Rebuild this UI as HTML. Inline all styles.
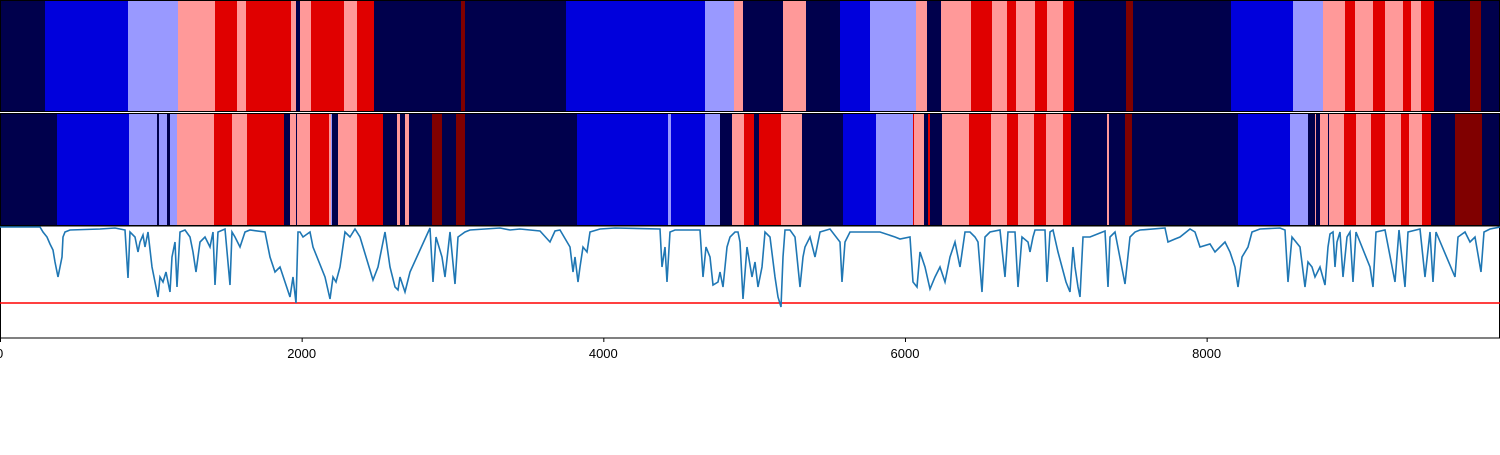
<!DOCTYPE html>
<html><head><meta charset="utf-8"><style>
body{margin:0;background:#fff;width:1500px;height:450px;overflow:hidden;font-family:"Liberation Sans",sans-serif}
</style></head><body>
<svg id="chart" width="1500" height="450" xmlns="http://www.w3.org/2000/svg">
<g id="row1"></g>
<g id="row2"></g>
<g id="line"></g>
<g id="axis"></g>
</svg>
<script>
const sampleStep = 6.63;
const xMax = 9945;
const tickValues = [0, 2000, 4000, 6000, 8000];
const tickLabels = ["0", "2000", "4000", "6000", "8000"];
const threshold = 76;
// segment boundaries (sample index) and levels (-3..3)
const row1Bounds = [0,45,128,178,215,237,246,291,296,300,311,344,357,374,461,465,566,705,734,743,783,806,840,870,916,927,941,971,992,1007,1016,1035,1047,1063,1074,1126,1133,1231,1293,1323,1345,1355,1373,1385,1403,1411,1421,1434,1470,1481,1500];
const row1Levels = [-3,-2,-1,1,2,1,2,1,-3,1,2,1,2,-3,3,-3,-2,-1,1,-3,1,-3,-2,-1,1,-3,1,2,1,2,1,2,1,2,-3,3,-3,-2,-1,1,2,1,2,1,2,1,2,-3,3,-3];
const row2Bounds = [0,57,129,157,159,167,170,177,214,232,247,284,290,296,297,310,329,331,332,338,357,383,397,400,405,409,432,442,456,465,577,668,671,705,720,732,744,754,759,781,802,843,876,913,914,924,928,930,942,969,991,1007,1018,1034,1046,1063,1071,1107,1109,1125,1132,1238,1290,1308,1315,1316,1320,1328,1329,1344,1356,1371,1385,1401,1409,1422,1431,1455,1482,1500];
const row2Levels = [-3,-2,-1,-3,-1,-3,-1,1,2,1,2,-3,1,-3,1,2,1,-1,-3,1,2,-3,1,-3,1,-3,3,-3,3,-3,-2,-1,-2,-1,-3,1,2,-3,2,1,-3,-2,-1,2,1,-3,2,-3,1,2,1,2,1,2,1,2,-3,1,-3,3,-3,-2,-1,-3,1,-3,1,-3,1,2,1,2,1,2,1,2,-3,3,-3];
const sigIdx = [0,40,43,47,50,53,55,57,58,60,62,63,65,70,100,115,125,128,130,135,138,140,143,145,148,152,156,158,160,163,166,170,172,175,177,180,185,190,193,196,200,205,210,213,215,218,225,230,232,235,240,245,250,265,270,275,280,285,290,293,296,298,300,303,310,313,325,330,333,336,340,345,350,355,360,373,378,382,385,390,395,398,400,405,410,430,433,436,442,445,450,455,458,465,470,500,510,520,540,550,555,560,570,573,575,578,580,583,587,590,600,615,660,662,665,667,670,675,700,703,706,710,713,718,720,723,727,730,735,738,740,743,747,752,755,758,762,765,770,775,778,781,783,785,790,795,800,803,805,810,815,820,830,840,842,845,850,880,895,900,910,913,917,920,925,930,935,940,945,950,955,960,965,970,975,978,982,985,990,1000,1005,1008,1015,1018,1022,1028,1030,1033,1035,1040,1045,1047,1050,1053,1058,1062,1066,1070,1073,1075,1078,1080,1083,1090,1100,1105,1108,1110,1115,1125,1130,1135,1140,1165,1168,1175,1180,1190,1195,1200,1210,1215,1225,1230,1235,1238,1242,1248,1252,1260,1280,1285,1288,1292,1300,1305,1308,1312,1315,1320,1325,1328,1330,1333,1335,1337,1340,1343,1347,1350,1353,1356,1370,1373,1376,1385,1395,1399,1405,1408,1420,1425,1430,1433,1436,1455,1458,1465,1470,1475,1481,1484,1490,1500];
const sigVal = [0,0,5,10,17,23,35,45,50,40,30,10,5,3,2,1,3,51,5,10,25,15,8,20,5,40,60,70,50,55,45,65,30,15,60,5,3,10,25,45,15,10,20,5,58,5,2,58,5,10,20,5,3,5,30,45,40,55,70,50,76,5,5,10,5,20,50,72,50,55,40,5,10,2,10,53,40,20,5,40,60,63,50,65,45,1,55,10,30,50,5,57,10,5,3,1,3,2,4,15,4,3,20,45,30,55,40,20,25,5,2,1,2,40,20,55,5,3,3,50,20,30,58,55,45,60,20,10,5,5,15,72,20,50,35,60,40,5,10,50,70,80,30,3,3,10,60,30,20,10,30,5,2,15,55,15,5,5,10,12,10,55,60,25,40,62,50,40,55,30,15,40,5,5,10,15,65,10,5,3,50,5,5,60,10,15,25,10,3,3,3,55,5,3,25,40,55,65,20,40,60,70,10,10,6,4,60,10,5,57,10,5,3,1,15,12,10,2,5,20,17,25,15,25,40,60,30,20,5,2,1,3,55,10,20,60,35,40,50,40,58,20,7,5,40,15,5,50,10,5,55,5,40,60,5,3,55,3,60,5,2,50,5,55,5,50,10,5,15,10,45,5,2,0];
const colors = {"-3":"#00004c","-2":"#0000dc","-1":"#9999ff","1":"#ff9999","2":"#e00000","3":"#800000"};
const W = 1500;
function xs(v){ return v / xMax * W; }
function xIdx(i){ return xs(i * sampleStep); }
function ys(v){ return 227 + v; }
const NS = "http://www.w3.org/2000/svg";
function mk(tag, parent){ const e = document.createElementNS(NS, tag); parent.appendChild(e); return e; }
function drawRow(gid, bounds, levels, y0, h, name){
  const g = document.getElementById(gid);
  for (let i = 0; i < levels.length; i++){
    const r = mk("rect", g);
    
    
    const x0 = xIdx(bounds[i]), x1 = xIdx(bounds[i+1]);
    r.setAttribute("x", x0); r.setAttribute("width", Math.max(x1 - x0, 0.8) + 0.3);
    r.setAttribute("y", y0); r.setAttribute("height", h);
    r.setAttribute("fill", colors[levels[i]]);
  }
  const b = mk("rect", g);
  
  
  b.setAttribute("x", 0.5); b.setAttribute("y", y0 + 0.5); b.setAttribute("width", W - 1); b.setAttribute("height", h - 1);
  b.setAttribute("fill", "none"); b.setAttribute("stroke", "#000"); b.setAttribute("stroke-width", "1");
}
drawRow("row1", row1Bounds, row1Levels, 0, 112, "row1");
drawRow("row2", row2Bounds, row2Levels, 113, 113, "row2");
const lg = document.getElementById("line");
const frame = mk("rect", lg);


frame.setAttribute("x", 0.5); frame.setAttribute("y", 226); frame.setAttribute("width", W - 1); frame.setAttribute("height", 112);
frame.setAttribute("fill", "#fff"); frame.setAttribute("stroke", "#000");
const th = mk("line", lg);


th.setAttribute("x1", 0); th.setAttribute("x2", W); th.setAttribute("y1", ys(threshold)); th.setAttribute("y2", ys(threshold));
th.setAttribute("stroke", "#ff0000"); th.setAttribute("stroke-width", "1.5");
const pl = mk("polyline", lg);


pl.setAttribute("points", sigIdx.map((s, i) => xIdx(s).toFixed(1) + "," + ys(sigVal[i]).toFixed(1)).join(" "));
pl.setAttribute("fill", "none"); pl.setAttribute("stroke", "#1f77b4"); pl.setAttribute("stroke-width", "1.6");
const ax = document.getElementById("axis");
const axl = mk("line", ax);


axl.setAttribute("x1", 0); axl.setAttribute("x2", W); axl.setAttribute("y1", 338); axl.setAttribute("y2", 338); axl.setAttribute("stroke", "#000");
tickValues.forEach((t, i) => {
  const x = xs(t);
  const tk = mk("line", ax);
  
  
  tk.setAttribute("x1", x + 0.5); tk.setAttribute("x2", x + 0.5); tk.setAttribute("y1", 338); tk.setAttribute("y2", 342); tk.setAttribute("stroke", "#000");
  const tx = mk("text", ax);
  
  
  tx.setAttribute("x", x); tx.setAttribute("y", 358); tx.setAttribute("font-size", "13");
  tx.setAttribute("text-anchor", i === 0 ? "start" : "middle");
  if (i === 0) tx.setAttribute("x", x - 4);
  tx.setAttribute("font-family", "Liberation Sans, sans-serif");
  tx.textContent = tickLabels[i];
});
</script>
</body></html>
